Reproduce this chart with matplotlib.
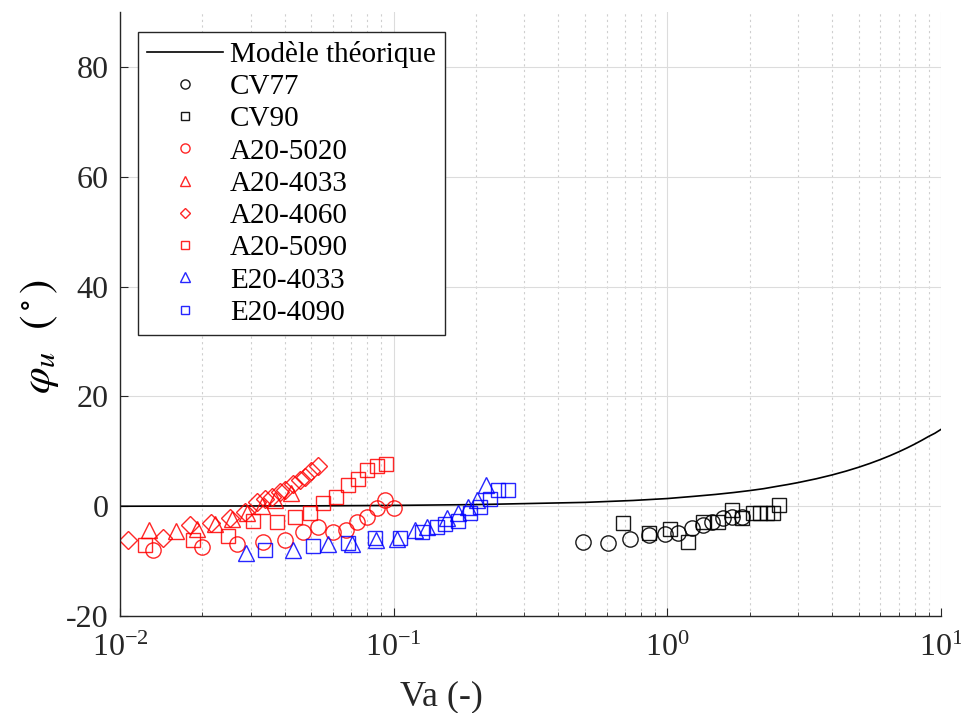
import matplotlib
matplotlib.use("Agg")
import matplotlib.pyplot as plt
from matplotlib.ticker import LogLocator, FixedLocator, NullFormatter, LogFormatterMathtext

plt.rcParams['font.family'] = ['Liberation Serif', 'DejaVu Serif']
plt.rcParams['mathtext.fontset'] = 'stix'
plt.rcParams['axes.unicode_minus'] = False

# Theoretical model
model_va = [0.01, 0.02, 0.05, 0.1, 0.2, 0.5, 0.75, 1.0, 1.25, 1.5, 1.75, 2.0, 2.25, 2.5, 2.75, 3.0, 3.5, 4.0, 4.5, 5.0, 5.5, 6.0, 6.5, 7.0, 7.5, 8.0, 8.5, 9.0, 9.5, 10.0]
model_phi = [0.0, 0.03, 0.07, 0.15, 0.3, 0.7, 1.05, 1.4, 1.8, 2.15, 2.5, 2.85, 3.2, 3.6, 3.95, 4.3, 5.0, 5.7, 6.4, 7.1, 7.8, 8.5, 9.2, 9.9, 10.6, 11.3, 12.0, 12.7, 13.3, 14.0]

cv77_va = [0.490, 0.608, 0.730, 0.859, 0.980, 1.096, 1.227, 1.353, 1.452, 1.601, 1.717, 1.867]
cv77_phi = [-6.5, -6.7, -5.9, -5.3, -5.0, -4.9, -3.9, -3.5, -2.9, -2.2, -1.9, -1.9]

cv90_va = [0.690, 0.859, 1.022, 1.192, 1.353, 1.535, 1.717, 1.867, 2.05, 2.18, 2.32, 2.44, 2.56]
cv90_phi = [-3.0, -4.9, -4.2, -6.5, -2.9, -2.9, -0.6, -2.2, -1.3, -1.3, -1.3, -1.3, 0.2]

a5020_va = [0.0132, 0.0199, 0.0267, 0.0334, 0.0400, 0.0467, 0.0530, 0.0602, 0.0672, 0.0733, 0.0799, 0.0867, 0.0931, 0.1003]
a5020_phi = [-8.0, -7.4, -6.8, -6.5, -6.2, -4.7, -3.8, -4.7, -4.3, -2.9, -1.9, -0.4, 1.1, -0.4]

a4033_va = [0.0128, 0.0160, 0.0192, 0.0222, 0.0256, 0.0290, 0.0330, 0.0370, 0.0420]
a4033_phi = [-4.4, -4.6, -4.2, -3.3, -2.4, -1.2, 0.0, 1.2, 2.4]

a4060_va = [0.0107, 0.0144, 0.0180, 0.0216, 0.0252, 0.0286, 0.0316, 0.0339, 0.0358, 0.0384, 0.0401, 0.0430, 0.0455, 0.0474, 0.0501, 0.0530]
a4060_phi = [-6.1, -5.7, -3.5, -3.0, -2.2, -1.0, 0.8, 1.4, 1.7, 2.6, 2.9, 4.1, 4.7, 5.3, 6.5, 7.4]

a5090_va = [0.0123, 0.0185, 0.0249, 0.0307, 0.0374, 0.0436, 0.0495, 0.0553, 0.0618, 0.0682, 0.0741, 0.0799, 0.0867, 0.0937]
a5090_phi = [-7.1, -6.2, -5.5, -2.6, -2.9, -1.9, -1.2, 0.5, 1.7, 3.8, 5.0, 6.6, 7.3, 7.7]

e4033_va = [0.0289, 0.0430, 0.0577, 0.0703, 0.0861, 0.1026, 0.120, 0.132, 0.156, 0.172, 0.187, 0.201, 0.217]
e4033_phi = [-8.6, -8.0, -6.8, -6.8, -6.1, -5.9, -4.4, -3.8, -2.2, -1.3, -0.1, 1.1, 3.8]

e4090_va = [0.0339, 0.0509, 0.0683, 0.0854, 0.1054, 0.1265, 0.1436, 0.154, 0.172, 0.190, 0.207, 0.225, 0.241, 0.262]
e4090_phi = [-8.0, -7.3, -6.7, -5.7, -5.7, -4.7, -3.8, -3.2, -2.6, -1.3, -0.1, 1.4, 2.9, 2.9]

xticks = [0.01, 0.1, 1, 10]
yticks = [-20, 0, 20, 40, 60, 80]

fig = plt.figure(figsize=(9.62, 7.13), dpi=100)
ax = fig.add_axes([0.1247, 0.136, 0.8535, 0.847])

ax.plot(model_va, model_phi, color='black', lw=1.2, label='Modèle théorique')
series = [
    (cv77_va, cv77_phi, 'o', 'black', 'CV77'),
    (cv90_va, cv90_phi, 's', 'black', 'CV90'),
    (a5020_va, a5020_phi, 'o', 'red', 'A20-5020'),
    (a4033_va, a4033_phi, '^', 'red', 'A20-4033'),
    (a4060_va, a4060_phi, 'D', 'red', 'A20-4060'),
    (a5090_va, a5090_phi, 's', 'red', 'A20-5090'),
    (e4033_va, e4033_phi, '^', 'blue', 'E20-4033'),
    (e4090_va, e4090_phi, 's', 'blue', 'E20-4090'),
]
sizes = {'o': 11, '^': 12, 'D': 9, 's': 10}
for xv, yv, m, c, lab in series:
    ax.plot(xv, yv, linestyle='none', marker=m, markersize=sizes[m], markerfacecolor='none',
            markeredgecolor=c, markeredgewidth=1.0, alpha=0.85 if c != 'black' else 0.9, label=lab)

ax.set_xscale('log')
ax.set_xlim(0.01, 10)
ax.set_ylim(-20, 90)
ax.xaxis.set_major_locator(FixedLocator(xticks))
ax.xaxis.set_major_formatter(LogFormatterMathtext())
ax.xaxis.set_minor_locator(LogLocator(base=10, subs=range(2, 10)))
ax.xaxis.set_minor_formatter(NullFormatter())
ax.yaxis.set_major_locator(FixedLocator(yticks))

ax.grid(True, which='major', color='#dcdcdc', lw=0.8, ls='-')
ax.grid(True, which='minor', axis='x', color='#cfcfcf', lw=0.8, ls=(0, (2, 3)))
ax.set_axisbelow(True)

for s in ['top', 'right']:
    ax.spines[s].set_visible(False)
for s in ['left', 'bottom']:
    ax.spines[s].set_linewidth(1.0)
    ax.spines[s].set_color('#262626')

ax.tick_params(which='both', direction='in', labelsize=23, colors='#262626', labelcolor='#262626')
ax.tick_params(which='major', length=6)
ax.tick_params(which='minor', length=3)
ax.tick_params(axis='x', pad=13)
ax.tick_params(axis='y', pad=8)

ax.set_xlabel('Va (-)', fontsize=26, color='#262626')
ax.xaxis.set_label_coords(0.391, -0.106)
ax.set_ylabel(r'$\varphi_u\ \ (^\circ)$', fontsize=31, color='black')
ax.yaxis.set_label_coords(-0.072, 0.462)

leg = ax.legend(loc='upper left', bbox_to_anchor=(0.022, 0.967), fontsize=21, markerscale=0.6,
                handlelength=2.6, labelspacing=0.2, borderpad=0.3, borderaxespad=0.0,
                handletextpad=0.25, frameon=True, fancybox=False, edgecolor='#262626', framealpha=1)
leg.get_frame().set_linewidth(1.0)

fig.savefig('out.png', dpi=100)
